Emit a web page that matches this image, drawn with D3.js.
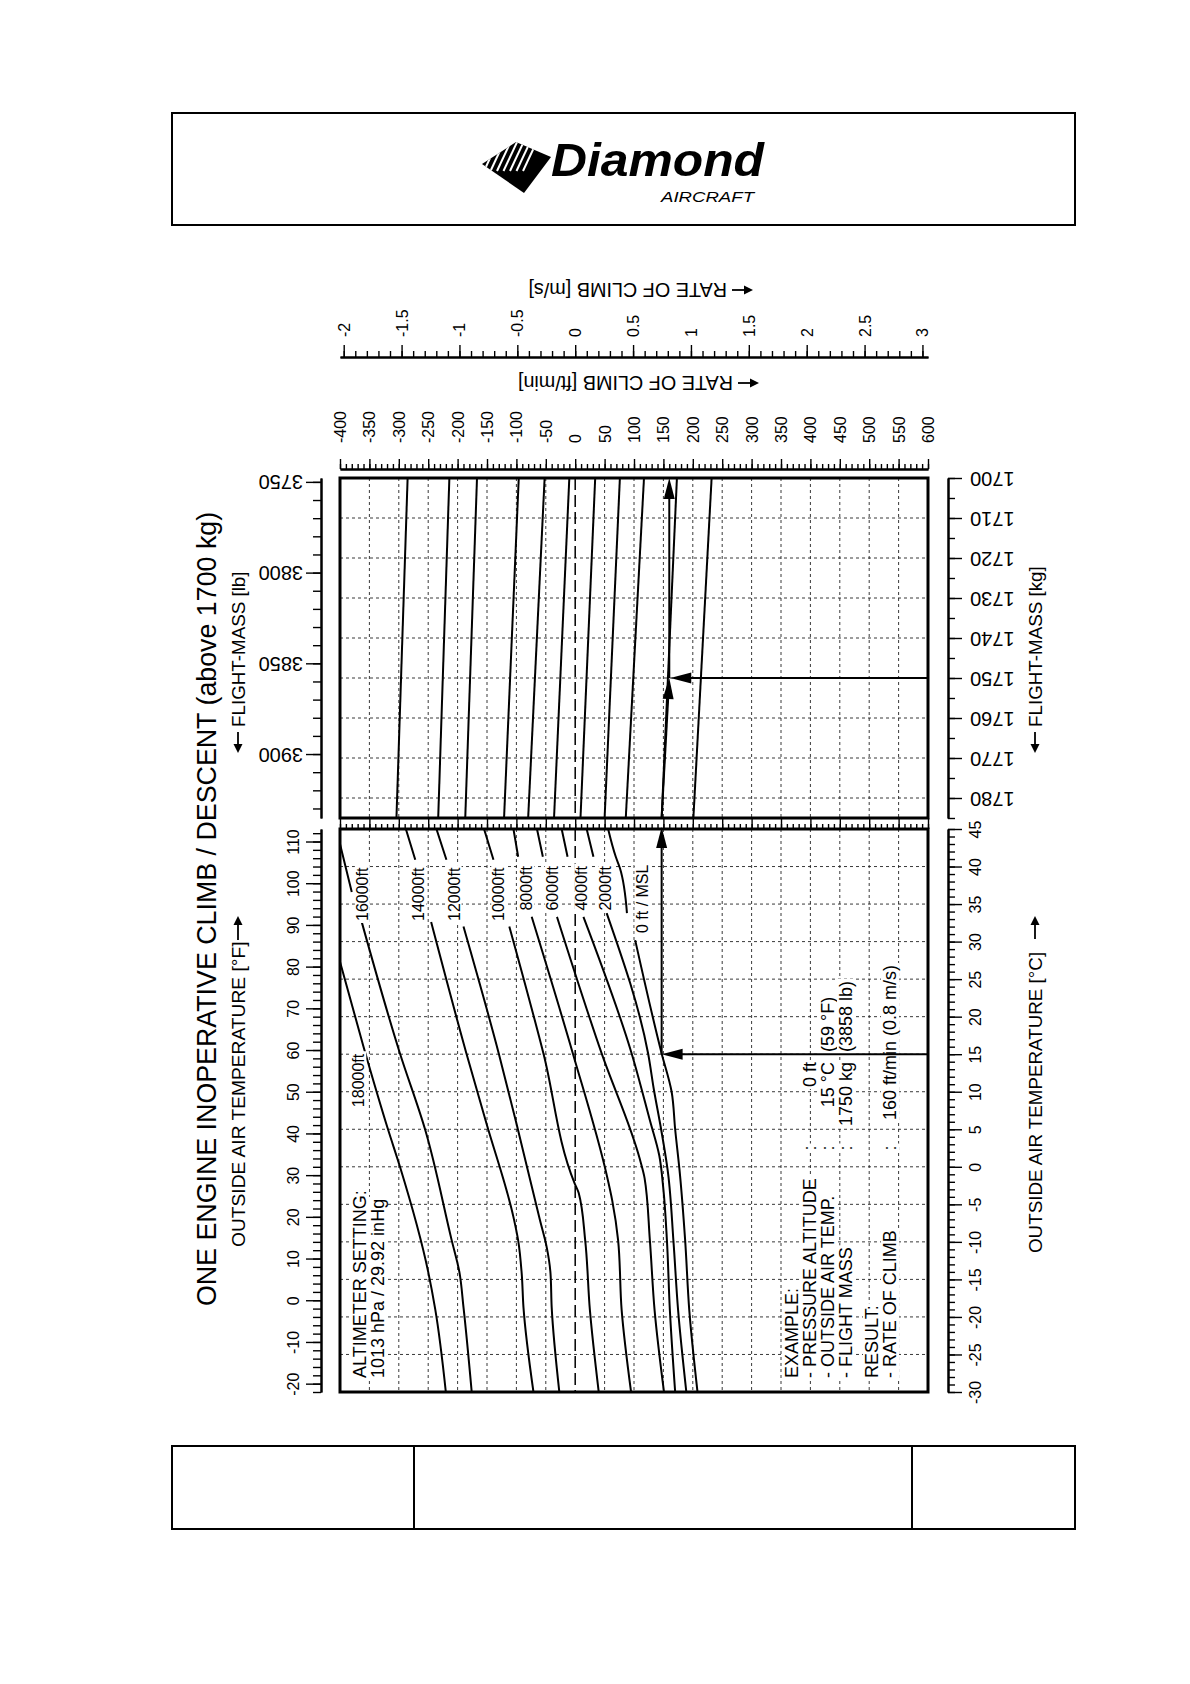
<!DOCTYPE html>
<html>
<head>
<meta charset="utf-8">
<title>One engine inoperative climb / descent</title>
<script src="https://cdn.jsdelivr.net/npm/d3@7"></script>
<style>
  body { margin: 0; background: #fff; }
  svg { display: block; }
  text { font-family: "Liberation Sans", Arial, Helvetica, sans-serif; fill: #000; }
</style>
</head>
<body>
<svg id="sheet" width="1190" height="1684"></svg>
<script>
// ---- tick labels ----
var rateTicks = [-400, -350, -300, -250, -200, -150, -100, -50, 0, 50, 100, 150, 200, 250, 300, 350, 400, 450, 500, 550, 600];
var msTicks = [-2, -1.5, -1, -0.5, 0, 0.5, 1, 1.5, 2, 2.5, 3];
var kgTicks = [1700, 1710, 1720, 1730, 1740, 1750, 1760, 1770, 1780];
var lbTicks = [3750, 3800, 3850, 3900];
var tempCTicks = [-30, -25, -20, -15, -10, -5, 0, 5, 10, 15, 20, 25, 30, 35, 40, 45];
var tempFTicks = [-20, -10, 0, 10, 20, 30, 40, 50, 60, 70, 80, 90, 100, 110];

// ---- lower panel: rate of climb [ft/min] vs OAT [°C], one list per pressure altitude
// null = break in the line where the label sits
var alt18000 = [[-400, 27.3], [-360, 16], [-318, 4.9], [-298, 0], [-250, -14], [-238, -19], [-220, -30]];
var alt16000 = [[-400, 43], [-380, 36.6], null, [-363, 32.6], [-298, 15.1], [-255, 4.9], [-210, -9.8], [-197, -14], [-190, -18.7], [-176, -30]];
var alt14000 = [[-288, 45], [-272, 40.9], null, [-245, 32.6], [-185, 15.1], [-151, 5.8], [-105, -6.7], [-97, -9.8], [-91, -14.2], [-88, -18.7], [-71, -30]];
var alt12000 = [[-236, 45], [-219, 40.9], null, [-190, 32], [-130, 15.1], [-100, 5.8], [-60, -7.1], [-49, -10.5], [-42, -14.2], [-40, -18.7], [-27, -30]];
var alt10000 = [[-155, 45], [-139, 40.9], null, [-112, 32], [-54, 15.1], [-1, -2.2], [6, -3.5], [17, -9.8], [25, -19.1], [40, -30]];
var alt8000 = [[-105, 45], [-97, 41.3], null, [-74, 33.3], [-4, 15.1], [53, -0.9], [63, -4.5], [73, -9.8], [79, -19.1], [95, -30]];
var alt6000 = [[-65, 45], [-55, 41.3], null, [-31, 33.3], [45, 15.1], [110, 1], [118, -1.5], [127, -9.8], [135, -19.1], [151, -30]];
var alt4000 = [[-23, 45], [-13, 41.3], null, [14, 33.3], [96, 15.1], [127, 6.2], [143, 1.5], [150, -3], [156, -9.8], [161, -19.1], [170, -30]];
var alt2000 = [[19.5, 45], [31, 41.3], null, [53.5, 33.8], [124, 15.1], [134, 10.2], [145, 5.5], [158, -0.9], [167, -9.8], [175, -19.1], [189, -30]];
var alt0 = [[56, 45], [69, 41.3], [76, 39.8], [88, 33.8], null, [102, 30.2], [147, 15.1], [164, 10], [170, 5], [178, -0.9], [187, -9.8], [194, -19.1], [208, -30]];
var altitudeNames = ["18000ft", "16000ft", "14000ft", "12000ft", "10000ft", "8000ft", "6000ft", "4000ft", "2000ft", "0 ft / MSL"];
var altitudeCurves = [alt18000, alt16000, alt14000, alt12000, alt10000, alt8000, alt6000, alt4000, alt2000, alt0];

// ---- upper panel: mass correction guide lines (rate at 1700 kg and at 1785 kg)
var guideRateAt1700 = [-285, -214, -167, -96, -52, -10, 34, 76, 117, 173, 232];
var guideRateAt1785 = [-304, -233, -187, -121, -80, -36, 9, 50, 86, 147, 201];

// ---- example
var exampleTemp = 15, exampleMass = 1750, exampleRateRef = 147, exampleRate = 160;
var exampleLabels = ["EXAMPLE:", "- PRESSURE ALTITUDE", "- OUTSIDE AIR TEMP.", "- FLIGHT MASS", "RESULT:", "- RATE OF CLIMB"];
var exampleValues = ["", "0 ft", "15 °C", "1750 kg", "", ""];
var exampleExtra = ["", "", "(59 °F)", "(3858 lb)", "", ""];
var exampleResult = "160 ft/min (0.8 m/s)";

var KG_PER_LB = 0.45359237, FPM_PER_MS = 196.850394;

var svg = d3.select("#sheet");

// scales
var x = d3.scaleLinear().domain([-400, 600]).range([340, 928]);
var xMs = d3.scaleLinear().domain([-400 / FPM_PER_MS, 600 / FPM_PER_MS]).range([340, 928]);
var yKg = d3.scaleLinear().domain([1700, 1785]).range([478, 818]);
var yLb = d3.scaleLinear().domain([1700 / KG_PER_LB, 1785 / KG_PER_LB]).range([478, 818]);
var yC = d3.scaleLinear().domain([45, -30]).range([829, 1392]);
var yF = d3.scaleLinear().domain([113, -22]).range([829, 1392]);

// helpers
function arrow(g, x1, y1, x2, y2, len, half, w) {
  var a = Math.atan2(y2 - y1, x2 - x1);
  var bx = x2 - len * Math.cos(a), by = y2 - len * Math.sin(a);
  var px = -Math.sin(a) * half, py = Math.cos(a) * half;
  g.append("line").attr("x1", x1).attr("y1", y1).attr("x2", bx + Math.cos(a)).attr("y2", by + Math.sin(a))
    .attr("stroke", "#000").attr("stroke-width", w);
  g.append("path").attr("d", "M" + x2 + "," + y2 + "L" + (bx + px) + "," + (by + py) + "L" + (bx - px) + "," + (by - py) + "Z")
    .attr("fill", "#000");
}

function rotText(g, px, py, str, size, anchor, rot) {
  return g.append("text")
    .attr("transform", "translate(" + px + "," + py + ") rotate(" + rot + ")")
    .attr("text-anchor", anchor).attr("dominant-baseline", "central")
    .style("font-size", size + "px").text(str);
}

// text with a white box behind it (knocks out grid and lines)
function boxText(g, px, py, str, size, anchor, rot) {
  var t = g.append("g").attr("transform", "translate(" + px + "," + py + ") rotate(" + rot + ")");
  var r = t.append("rect").attr("fill", "#fff");
  var tx = t.append("text").attr("text-anchor", anchor).attr("dominant-baseline", "central")
    .style("font-size", size + "px").text(str);
  var b = tx.node().getBBox();
  r.attr("x", b.x - 2).attr("y", b.y + 1).attr("width", b.width + 4).attr("height", b.height - 2);
  return t;
}

// ---- page boxes ----
var page = svg.append("g").attr("fill", "none").attr("stroke", "#000").attr("stroke-width", 2);
page.append("rect").attr("x", 172).attr("y", 113).attr("width", 903).attr("height", 112);
page.append("rect").attr("x", 172).attr("y", 1446).attr("width", 903).attr("height", 83);
page.append("line").attr("x1", 414).attr("x2", 414).attr("y1", 1446).attr("y2", 1529);
page.append("line").attr("x1", 912).attr("x2", 912).attr("y1", 1446).attr("y2", 1529);

// ---- logo ----
var logo = svg.append("g");
var defs = svg.append("defs");
var diamondShape = "M482,164 L516,142 L551,157 L524,193 Z";
defs.append("clipPath").attr("id", "diamondClip").append("path").attr("d", diamondShape);
logo.append("path").attr("d", diamondShape).attr("fill", "#000");
var stripes = logo.append("g").attr("clip-path", "url(#diamondClip)").attr("stroke", "#fff").attr("stroke-width", 2);
[0, 1, 2, 3, 4, 5, 6].forEach(function (i) {
  stripes.append("line").attr("x1", 484 + i * 6.5).attr("y1", 171).attr("x2", 499 + i * 6.5).attr("y2", 139);
});
logo.append("text").attr("x", 551).attr("y", 176)
  .style("font-size", "47px").style("font-weight", "bold").style("font-style", "italic")
  .attr("textLength", 213).attr("lengthAdjust", "spacingAndGlyphs").text("Diamond");
logo.append("text").attr("x", 661).attr("y", 202)
  .style("font-size", "15px").style("font-style", "italic")
  .attr("textLength", 93).attr("lengthAdjust", "spacingAndGlyphs").text("AIRCRAFT");

// ---- grid ----
var gridRates = rateTicks.filter(function (r) { return r > -400 && r < 600 && r !== 0; });
var grid = svg.append("g").attr("stroke", "#222").attr("stroke-width", 0.9).attr("stroke-dasharray", "3,3");
grid.selectAll(".gu").data(gridRates).enter().append("line")
  .attr("x1", function (d) { return x(d); }).attr("x2", function (d) { return x(d); })
  .attr("y1", yKg(1700)).attr("y2", yKg(1785));
grid.selectAll(".gl").data(gridRates).enter().append("line")
  .attr("x1", function (d) { return x(d); }).attr("x2", function (d) { return x(d); })
  .attr("y1", yC(45)).attr("y2", yC(-30));
grid.selectAll(".gm").data(kgTicks.filter(function (k) { return k > 1700; })).enter().append("line")
  .attr("x1", x(-400)).attr("x2", x(600))
  .attr("y1", function (d) { return yKg(d); }).attr("y2", function (d) { return yKg(d); });
grid.selectAll(".gt").data(tempCTicks.filter(function (t) { return t > -30 && t < 45; })).enter().append("line")
  .attr("x1", x(-400)).attr("x2", x(600))
  .attr("y1", function (d) { return yC(d); }).attr("y2", function (d) { return yC(d); });

// zero rate line
var zero = svg.append("g").attr("stroke", "#000").attr("stroke-width", 1.5).attr("stroke-dasharray", "12,5");
zero.append("line").attr("x1", x(0)).attr("x2", x(0)).attr("y1", yKg(1700)).attr("y2", yKg(1785));
zero.append("line").attr("x1", x(0)).attr("x2", x(0)).attr("y1", yC(45)).attr("y2", yC(-30));

// ---- curves ----
defs.append("clipPath").attr("id", "lowClip").append("rect")
  .attr("x", x(-400)).attr("y", yC(45)).attr("width", x(600) - x(-400)).attr("height", yC(-30) - yC(45));
var curveLine = d3.line().defined(function (d) { return d !== null; })
  .x(function (d) { return x(d[0]); }).y(function (d) { return yC(d[1]); })
  .curve(d3.curveMonotoneY);
svg.append("g").attr("clip-path", "url(#lowClip)").selectAll("path").data(altitudeCurves).enter().append("path")
  .attr("d", curveLine).attr("fill", "none").attr("stroke", "#000").attr("stroke-width", 2);

svg.append("g").selectAll("line").data(guideRateAt1700).enter().append("line")
  .attr("x1", function (d) { return x(d); }).attr("y1", yKg(1700))
  .attr("x2", function (d, i) { return x(guideRateAt1785[i]); }).attr("y2", yKg(1785))
  .attr("stroke", "#000").attr("stroke-width", 2);

// curve labels, centre in (ft/min, °C)
var labelAt = [[-368, 11.5], [-362, 36.3], [-266, 36.3], [-206, 36.3], [-130, 36.3], [-82, 37.1], [-39, 37.1], [11, 37.1], [52, 37.1], [114, 35.7]];
var labels = svg.append("g");
altitudeNames.forEach(function (n, i) {
  boxText(labels, x(labelAt[i][0]), yC(labelAt[i][1]), n, 16, "middle", -90);
});

// ---- example block ----
var ex = svg.append("g");
boxText(ex, 360, 1378, "ALTIMETER SETTING:", 18, "start", -90);
boxText(ex, 378, 1378, "1013 hPa / 29.92 inHg", 18, "start", -90);
var rowX = [792, 810, 828, 846, 872, 890];
exampleLabels.forEach(function (s, i) {
  boxText(ex, rowX[i], 1378, s, 18, "start", -90);
  if (i === 1 || i === 2 || i === 3 || i === 5) boxText(ex, rowX[i], 1148, ":", 18, "middle", -90);
  if (exampleValues[i]) boxText(ex, rowX[i], 1062, exampleValues[i], 18, "end", -90);
  if (exampleExtra[i]) boxText(ex, rowX[i], 1052, exampleExtra[i], 18, "start", -90);
});
boxText(ex, rowX[5], 1120, exampleResult, 18, "start", -90);

// example path
var ep = svg.append("g");
arrow(ep, x(600), yC(exampleTemp), x(exampleRateRef), yC(exampleTemp), 21, 5.5, 2);
arrow(ep, x(exampleRateRef), yC(exampleTemp), x(exampleRateRef), yC(45) - 2, 21, 5.5, 2);
arrow(ep, x(exampleRateRef), yKg(1785), x(exampleRate), yKg(exampleMass), 21, 5.5, 2);
arrow(ep, x(600), yKg(exampleMass), x(exampleRate) + 1, yKg(exampleMass), 21, 5.5, 2);
arrow(ep, x(exampleRate), yKg(exampleMass), x(exampleRate), yKg(1700), 21, 5.5, 2);

// ---- frames ----
var fr = svg.append("g").attr("fill", "none").attr("stroke", "#000").attr("stroke-width", 3);
fr.append("rect").attr("x", x(-400)).attr("y", yKg(1700)).attr("width", x(600) - x(-400)).attr("height", yKg(1785) - yKg(1700));
fr.append("rect").attr("x", x(-400)).attr("y", yC(45)).attr("width", x(600) - x(-400)).attr("height", yC(-30) - yC(45));

// ---- axes ----
function ruler(axisFn, scale, pos, minorVals, majorVals, minorLen, majorLen) {
  var g = svg.append("g").attr("transform", pos);
  g.append("g").call(axisFn(scale).tickValues(minorVals).tickSize(minorLen).tickSizeOuter(0).tickFormat(""));
  var maj = g.append("g").call(axisFn(scale).tickValues(majorVals).tickSize(majorLen).tickSizeOuter(0)
    .tickFormat(function (d) { return String(d); }));
  g.selectAll("g").attr("font-family", null).attr("font-size", null);
  g.selectAll(".domain").attr("stroke-width", 2);
  g.selectAll(".tick line").attr("stroke-width", 1.4);
  return maj;
}

// top ft/min ruler
var aFt = ruler(d3.axisTop, x, "translate(0,469)", d3.range(-400, 601, 10), rateTicks, 5, 10);
aFt.selectAll(".tick text").attr("y", null).attr("dy", null)
  .attr("transform", "translate(0,-26) rotate(-90)").attr("text-anchor", "start")
  .attr("dominant-baseline", "central").style("font-size", "16px");

// top m/s ruler
var aMs = ruler(d3.axisTop, xMs, "translate(0,357)", d3.range(-20, 31).map(function (d) { return d / 10; }), msTicks, 6, 12);
aMs.selectAll(".tick text").attr("y", null).attr("dy", null)
  .attr("transform", "translate(0,-20) rotate(-90)").attr("text-anchor", "start")
  .attr("dominant-baseline", "central").style("font-size", "16px");

// band between panels
var band = svg.append("g").attr("transform", "translate(0," + yC(45) + ")");
band.append("g").call(d3.axisTop(x).tickValues(d3.range(-400, 601, 10)).tickSize(5).tickSizeOuter(0).tickFormat(""));
band.append("g").call(d3.axisTop(x).tickValues(rateTicks).tickSize(yC(45) - yKg(1785)).tickSizeOuter(0).tickFormat(""));
band.selectAll(".domain").remove();
band.selectAll(".tick line").attr("stroke-width", 1.4);

// left: flight mass [lb]
var aLb = ruler(d3.axisLeft, yLb, "translate(321,0)", d3.range(3750, 3931, 10), lbTicks, 8, 15);
aLb.selectAll(".tick text").attr("x", null).attr("dy", null)
  .attr("transform", "translate(-18,0) rotate(180)").attr("text-anchor", "start")
  .attr("dominant-baseline", "central").style("font-size", "20px");

// left: OAT [°F]
var aF = ruler(d3.axisLeft, yF, "translate(321,0)", d3.range(-22, 113, 2), tempFTicks, 8, 15);
aF.selectAll(".tick text").attr("x", null).attr("dy", null)
  .attr("transform", "translate(-28,0) rotate(-90)").attr("text-anchor", "middle")
  .attr("dominant-baseline", "central").style("font-size", "16px");

// right: flight mass [kg]
var aKg = ruler(d3.axisRight, yKg, "translate(948,0)", d3.range(1700, 1786, 5), kgTicks, 7, 14);
aKg.selectAll(".tick text").attr("x", null).attr("dy", null)
  .attr("transform", "translate(22,0) rotate(180)").attr("text-anchor", "end")
  .attr("dominant-baseline", "central").style("font-size", "20px");

// right: OAT [°C]
var aC = ruler(d3.axisRight, yC, "translate(948,0)", d3.range(-30, 46, 1), tempCTicks, 7, 14);
aC.selectAll(".tick text").attr("x", null).attr("dy", null)
  .attr("transform", "translate(27,0) rotate(-90)").attr("text-anchor", "middle")
  .attr("dominant-baseline", "central").style("font-size", "16px");

// ---- titles ----
var tt = svg.append("g");
rotText(tt, 207, 909, "ONE ENGINE INOPERATIVE CLIMB / DESCENT (above 1700 kg)", 26.8, "middle", -90);
rotText(tt, 238, 727, "FLIGHT-MASS [lb]", 18.8, "start", -90);
arrow(tt, 238, 732, 238, 753, 9, 4.5, 1.8);
rotText(tt, 238, 1247, "OUTSIDE AIR TEMPERATURE [°F]", 19.2, "start", -90);
arrow(tt, 238, 940, 238, 916, 9, 4.5, 1.8);
rotText(tt, 1035, 727, "FLIGHT-MASS [kg]", 18.8, "start", -90);
arrow(tt, 1035, 732, 1035, 753, 9, 4.5, 1.8);
rotText(tt, 1035, 1253, "OUTSIDE AIR TEMPERATURE [°C]", 18.8, "start", -90);
arrow(tt, 1035, 939, 1035, 916, 9, 4.5, 1.8);
rotText(tt, 727, 290, "RATE OF CLIMB [m/s]", 19.8, "start", 180);
arrow(tt, 732, 290, 753, 290, 9, 4.5, 1.8);
rotText(tt, 733, 383, "RATE OF CLIMB [ft/min]", 19.8, "start", 180);
arrow(tt, 738, 383, 759, 383, 9, 4.5, 1.8);
</script>
</body>
</html>
